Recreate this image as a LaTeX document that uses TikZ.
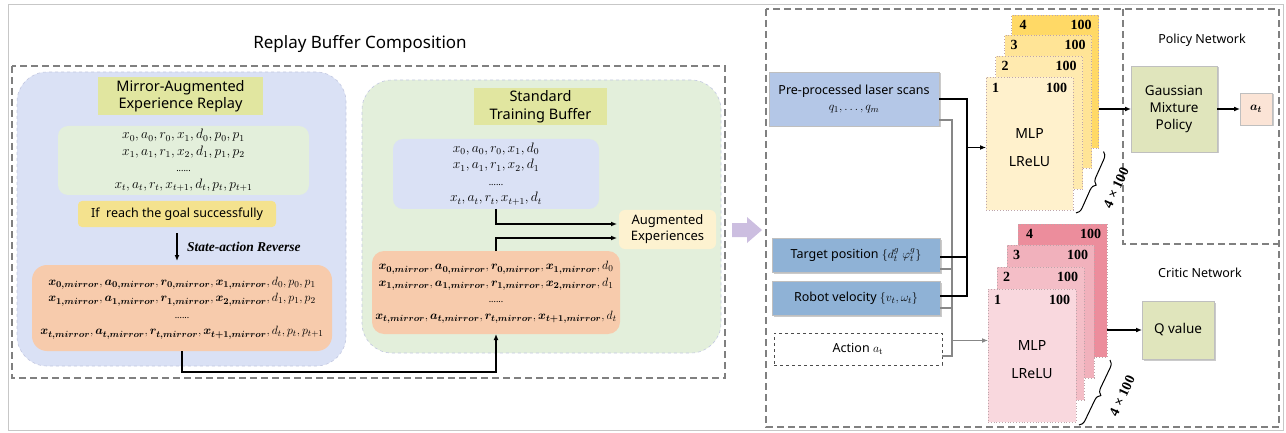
\documentclass[tikz,border=0pt]{standalone}
\usepackage[no-math]{fontspec}
\usepackage{amsmath,bm,graphicx}
\setmainfont{Noto Sans}
\newfontfamily\tnr{Liberation Serif}
\newcommand{\fmrow}[1]{\scalebox{1.14}{$#1$}}
\usetikzlibrary{arrows.meta,calc,shadows,decorations.pathreplacing}
\definecolor{mirrorblue}{RGB}{218,225,245}
\definecolor{softgreen}{RGB}{227,239,219}
\definecolor{titleyg}{RGB}{225,230,160}
\definecolor{ifyellow}{RGB}{244,226,142}
\definecolor{peach}{RGB}{247,203,172}
\definecolor{augyellow}{RGB}{253,242,208}
\definecolor{laserblue}{RGB}{180,199,231}
\definecolor{tgtblue}{RGB}{143,178,214}
\definecolor{gaussg}{RGB}{224,229,188}
\definecolor{atpink}{RGB}{251,228,214}
\definecolor{ycA}{RGB}{255,241,204}
\definecolor{ycB}{RGB}{255,234,175}
\definecolor{ycC}{RGB}{255,228,150}
\definecolor{ycD}{RGB}{255,217,102}
\definecolor{pcA}{RGB}{249,216,222}
\definecolor{pcB}{RGB}{244,190,199}
\definecolor{pcC}{RGB}{241,177,188}
\definecolor{pcD}{RGB}{236,141,156}
\definecolor{purplearrow}{RGB}{204,190,224}
\definecolor{framegray}{RGB}{128,128,128}
\definecolor{linegray}{RGB}{135,135,135}
\definecolor{cardborder}{RGB}{190,165,170}
\definecolor{softborder}{RGB}{195,200,225}
\begin{document}
\begin{tikzpicture}[x=1pt,y=-1pt,
  every node/.style={inner sep=0pt, outer sep=0pt},
  txt/.style={font=\fontsize{12.5}{15.5}\selectfont, align=center},
  ttl/.style={font=\fontsize{14.5}{17.5}\selectfont, align=center, fill=titleyg},
  mth/.style={font=\fontsize{12}{16.5}\selectfont, align=center},
  bigbox/.style={draw=softborder, dashed, line width=0.6pt, rounded corners=30pt},
  arr/.style={line width=1.3pt, -{Latex[length=6pt,width=5pt]}},
  bline/.style={line width=1.3pt},
  gline/.style={line width=1.3pt, draw=linegray},
  garr/.style={gline, -{Latex[length=6pt,width=5pt]}},
  frame/.style={draw=framegray, dash pattern=on 7pt off 4pt, line width=1.3pt},
  shad/.style={drop shadow={shadow xshift=1.5pt, shadow yshift=-1.5pt, opacity=0.35, fill=black!60}},
  inbox/.style={txt, draw=black!25, line width=0.4pt, shad},
  card/.style={draw=cardborder, dotted, line width=0.8pt, minimum width=87, minimum height=133},
  num/.style={font=\tnr\bfseries\fontsize{14}{16}\selectfont},
  brc/.style={decorate, decoration={brace, amplitude=7pt}, line width=1pt},
  rot/.style={font=\tnr\bfseries\fontsize{14}{16}\selectfont, rotate=65}
]
\useasboundingbox (0,0) rectangle (1286,433);
\draw[draw=black!22, line width=1pt] (8,5) rectangle (1283,430);

% ---------------- left panel ----------------
\node[font=\fontsize{17}{20}\selectfont] (rbtitle) at (360,44) {Replay Buffer Composition};
\draw[frame] (12,66) rectangle (725,378);

% mirror-augmented block
\node[bigbox, fill=mirrorblue, minimum width=329, minimum height=294] (mirror) at (181.5,219) {};
\node[ttl, minimum width=165, minimum height=38] (mtitle) at (180.5,96) {Mirror-Augmented\\Experience Replay};
\node[mth, fill=softgreen, rounded corners=10pt, minimum width=251, minimum height=69] (mgreen) at (183.5,160.5)
  {\fmrow{x_0, a_0, r_0, x_1, d_0, p_0, p_1}\\ \fmrow{x_1, a_1, r_1, x_2, d_1, p_1, p_2}\\ {\fontsize{9}{10}\selectfont ......}\\ \fmrow{x_t, a_t, r_t, x_{t+1}, d_t, p_t, p_{t+1}}};
\node[txt, font=\fontsize{12.5}{14}\selectfont, fill=ifyellow, rounded corners=4pt, minimum width=198, minimum height=26] (ifbox) at (177,214) {If\ \ reach the goal successfully};
\node[font=\tnr\bfseries\itshape\fontsize{13.5}{16}\selectfont, anchor=west] (sar) at (187,247) {State-action Reverse};
\node[mth, font=\fontsize{12.5}{16.5}\selectfont, fill=peach, rounded corners=15pt, minimum width=300, minimum height=86] (orange1) at (182,308)
  {$\bm{x_{0,mirror}}, \bm{a_{0,mirror}}, \bm{r_{0,mirror}}, \bm{x_{1,mirror}}, d_0, p_0, p_1$\\
   $\bm{x_{1,mirror}}, \bm{a_{1,mirror}}, \bm{r_{1,mirror}}, \bm{x_{2,mirror}}, d_1, p_1, p_2$\\
   {\fontsize{9}{10}\selectfont ......}\\
   $\bm{x_{t,mirror}}, \bm{a_{t,mirror}}, \bm{r_{t,mirror}}, \bm{x_{t+1,mirror}}, d_t, p_t, p_{t+1}$};
\draw[line width=1.3pt, -{Latex[length=6pt,width=5pt]}, shorten <=6pt, shorten >=4pt] (ifbox.south) -- (ifbox.south |- orange1.north);

% standard training buffer
\node[bigbox, fill=softgreen, minimum width=359, minimum height=273] (standard) at (541.5,216.5) {};
\node[ttl, minimum width=133, minimum height=37] (stitle) at (540.5,106.5) {Standard\\Training Buffer};
\node[mth, fill=mirrorblue, rounded corners=10pt, minimum width=206, minimum height=70] (sblue) at (496,174)
  {\fmrow{x_0, a_0, r_0, x_1, d_0}\\ \fmrow{x_1, a_1, r_1, x_2, d_1}\\ {\fontsize{9}{10}\selectfont ......}\\ \fmrow{x_t, a_t, r_t, x_{t+1}, d_t}};
\node[txt, font=\fontsize{13}{16}\selectfont, fill=augyellow, rounded corners=6pt, minimum width=97, minimum height=39] (aug) at (667.5,229.5) {Augmented\\Experiences};
\node[mth, font=\fontsize{12.5}{16.5}\selectfont, fill=peach, rounded corners=12pt, minimum width=248, minimum height=83] (orange2) at (496,292.5)
  {$\bm{x_{0,mirror}}, \bm{a_{0,mirror}}, \bm{r_{0,mirror}}, \bm{x_{1,mirror}}, d_0$\\
   $\bm{x_{1,mirror}}, \bm{a_{1,mirror}}, \bm{r_{1,mirror}}, \bm{x_{2,mirror}}, d_1$\\
   {\fontsize{9}{10}\selectfont ......}\\
   $\bm{x_{t,mirror}}, \bm{a_{t,mirror}}, \bm{r_{t,mirror}}, \bm{x_{t+1,mirror}}, d_t$};
\draw[arr] (sblue.south) |- ($(aug.west)+(-2,-5.5)$);
\draw[arr] (orange2.north) |- ($(aug.west)+(-2,8.5)$);
\coordinate (busy) at (0,372);
\draw[arr] (orange1.south) -- (orange1.south |- busy) -| (orange2.south);

% purple transfer arrow
\fill[purplearrow] (732,223) -- (747,223) -- (747,217) -- (762,230) -- (747,243) -- (747,237) -- (732,237) -- cycle;

% ---------------- right panel ----------------
\draw[frame] (766,9) rectangle (1279,427);
\draw[frame] (1123,9) -- (1123,244) -- (1279,244);

\node[inbox, fill=laserblue, minimum width=170, minimum height=54] (laser) at (854,99) {Pre-processed laser scans\\[1pt] $q_1, \ldots, q_m$};
\node[inbox, fill=tgtblue, minimum width=168, minimum height=34] (target) at (856,255) {Target position $\{d_t^g\ \varphi_t^g\}$};
\node[inbox, fill=tgtblue, minimum width=168, minimum height=34] (robot) at (856,298) {Robot velocity $\{v_t, \omega_t\}$};
\node[txt, draw=black!70, dashed, line width=0.9pt, fill=white, minimum width=168, minimum height=32] (action) at (858,349) {Action $a_{\mathrm{t}}$};

% yellow stack
\node[card, fill=ycD] (y4) at (1055,82) {};
\node[num, anchor=north west] (y4a) at ($(y4.north west)+(8,5)$) {4};
\node[num, anchor=north east] (y4b) at ($(y4.north east)+(-7,5)$) {100};
\node[card, fill=ycC] (y3) at (1048,102) {};
\node[num, anchor=north west] (y3a) at ($(y3.north west)+(6,5)$) {3};
\node[num, anchor=north east] (y3b) at ($(y3.north east)+(-6,5)$) {100};
\node[card, fill=ycB] (y2) at (1039,123) {};
\node[num, anchor=north west] (y2a) at ($(y2.north west)+(6,5)$) {2};
\node[num, anchor=north east] (y2b) at ($(y2.north east)+(-6,5)$) {100};
\node[card, fill=ycA] (y1) at (1029.5,143.5) {};
\node[num, anchor=north west] (y1a) at ($(y1.north west)+(6,6)$) {1};
\node[num, anchor=north east] (y1b) at ($(y1.north east)+(-6,6)$) {100};
\node[txt, font=\fontsize{14}{16}\selectfont] (ymlp) at ($(y1.center)+(0,-10)$) {MLP};
\node[txt, font=\fontsize{14}{16}\selectfont] (ylrelu) at ($(y1.center)+(0,18)$) {LReLU};
\draw[brc] ($(y4.south east)+(5,3)$) -- ($(y1.south east)+(3,3)$);
\node[rot] (ybl) at (1116,188) {4 × 100};

% pink stack
\node[card, fill=pcD, minimum width=89] (p4) at (1062.5,290.5) {};
\node[num, anchor=north west] (p4a) at ($(p4.north west)+(8,5)$) {4};
\node[num, anchor=north east] (p4b) at ($(p4.north east)+(-6,5)$) {100};
\node[card, fill=pcC] (p3) at (1050.5,311.5) {};
\node[num, anchor=north west] (p3a) at ($(p3.north west)+(6,5)$) {3};
\node[num, anchor=north east] (p3b) at ($(p3.north east)+(-6,5)$) {100};
\node[card, fill=pcB] (p2) at (1040.5,333.5) {};
\node[num, anchor=north west] (p2a) at ($(p2.north west)+(6,5)$) {2};
\node[num, anchor=north east] (p2b) at ($(p2.north east)+(-6,5)$) {100};
\node[card, fill=pcA, minimum width=88] (p1) at (1032,355.5) {};
\node[num, anchor=north west] (p1a) at ($(p1.north west)+(6,6)$) {1};
\node[num, anchor=north east] (p1b) at ($(p1.north east)+(-6,6)$) {100};
\node[txt, font=\fontsize{14}{16}\selectfont] (pmlp) at ($(p1.center)+(0,-10)$) {MLP};
\node[txt, font=\fontsize{14}{16}\selectfont] (plrelu) at ($(p1.center)+(0,18)$) {LReLU};
\draw[brc] ($(p4.south east)+(3,3)$) -- ($(p1.south east)+(3,3)$);
\node[rot] (pbl) at (1122,396) {4 × 100};

% input connectors
\coordinate (bbus) at (967,0);
\coordinate (gbus) at (952,0);
\draw[gline] ($(laser.east)+(0,21)$) -| ($(gbus |- action.east)+(0,7)$) -- ($(action.east)+(0,7)$);
\draw[gline] ($(target.east)+(0,14)$) -- ($(target.east -| gbus)+(0,14)$);
\draw[gline] ($(robot.east)+(0,10)$) -- ($(robot.east -| gbus)+(0,10)$);
\draw[garr] ($(p1.west -| gbus)+(0,-15)$) -- ($(p1.west)+(0,-15)$);
\draw[bline] (laser.east) -| ($(bbus |- robot.east)+(0,-2)$) -- ($(robot.east)+(0,-2)$);
\draw[bline] ($(target.east)+(0,2)$) -- ($(target.east -| bbus)+(0,2)$);
\draw[arr] ($(y1.west -| bbus)+(0,4)$) -- ($(y1.west)+(0,4)$);

% heads
\node[txt] (polt) at (1202,40) {Policy Network};
\node[txt] (crit) at (1200,273) {Critic Network};
\node[inbox, font=\fontsize{13.5}{17}\selectfont, fill=gaussg, minimum width=86, minimum height=86] (gauss) at (1174,109) {Gaussian\\Mixture\\Policy};
\node[inbox, fill=atpink, minimum width=32, minimum height=32] (at) at (1256,109) {$\bm{a_t}$};
\node[inbox, font=\fontsize{13.5}{16}\selectfont, fill=gaussg, minimum width=72, minimum height=58] (qv) at (1178,330) {Q value};
\draw[arr] (y4.east |- gauss.west) -- (gauss.west);
\draw[arr] (gauss.east) -- (at.west);
\draw[arr] (p4.east |- qv.west) -- (qv.west);
\end{tikzpicture}
\end{document}
